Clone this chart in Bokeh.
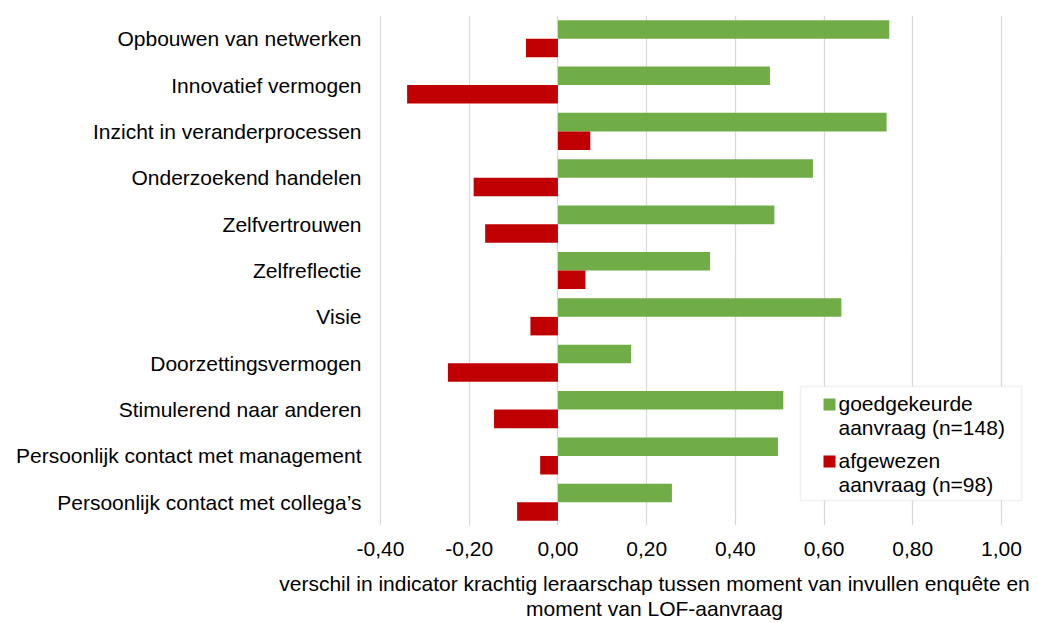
from bokeh.plotting import figure
from bokeh.models import (ColumnDataSource, FactorRange, FixedTicker, CustomJSTickFormatter,
                          Label, BoxAnnotation)
from bokeh.transform import dodge
from bokeh.embed import file_html
from bokeh.resources import INLINE

categories = [
    "Opbouwen van netwerken",
    "Innovatief vermogen",
    "Inzicht in veranderprocessen",
    "Onderzoekend handelen",
    "Zelfvertrouwen",
    "Zelfreflectie",
    "Visie",
    "Doorzettingsvermogen",
    "Stimulerend naar anderen",
    "Persoonlijk contact met management",
    "Persoonlijk contact met collega\u2019s",
]
goedgekeurd = [0.747, 0.478, 0.741, 0.575, 0.488, 0.343, 0.639, 0.165, 0.508, 0.496, 0.257]
afgewezen = [-0.072, -0.340, 0.073, -0.190, -0.164, 0.062, -0.062, -0.248, -0.144, -0.040, -0.092]
x_ticks = [-0.4, -0.2, 0.0, 0.2, 0.4, 0.6, 0.8, 1.0]
legend_lines_green = ["goedgekeurde", "aanvraag (n=148)"]
legend_lines_red = ["afgewezen", "aanvraag (n=98)"]
axis_title = ("verschil in indicator krachtig leraarschap tussen moment van invullen enqu\u00eate en\n"
              "moment van LOF-aanvraag")

GREEN = "#70AD47"
RED = "#C00000"
FONT = "Liberation Sans"
FS = "21px"

# layout (pixels): frame spans L..R horizontally, 15..525 vertically
W, H = 1036, 623
L, R, TOP, BOT = 282, 1026, 15, 525
PX_PER_UNIT = (1001 - 380) / 1.4
x_start = -0.4 - (380 - L) / PX_PER_UNIT
x_end = 1.0 + (R - 1001) / PX_PER_UNIT

src = ColumnDataSource(dict(cat=categories, g=goedgekeurd, r=afgewezen))

p = figure(
    y_range=FactorRange(factors=list(reversed(categories)), range_padding=0),
    x_range=(x_start, x_end),
    frame_width=R - L, frame_height=BOT - TOP,
    min_border_left=L, min_border_right=W - R, min_border_top=TOP, min_border_bottom=H - BOT,
    output_backend="svg", toolbar_location=None,
)
p.outline_line_color = None
p.background_fill_color = "white"
p.border_fill_color = "white"

p.hbar(y=dodge("cat", 0.2, range=p.y_range), right="g", left=0, height=0.4,
       color=GREEN, line_color=None, source=src)
p.hbar(y=dodge("cat", -0.2, range=p.y_range), right="r", left=0, height=0.4,
       color=RED, line_color=None, source=src)

p.xaxis.ticker = FixedTicker(ticks=x_ticks)
p.xaxis.formatter = CustomJSTickFormatter(code="return tick.toFixed(2).replace('.', ',');")
for ax in (p.xaxis[0], p.yaxis[0]):
    ax.axis_line_color = None
    ax.major_tick_line_color = None
    ax.minor_tick_line_color = None
    ax.major_tick_out = 0
    ax.major_tick_in = 0
    ax.major_label_text_font = FONT
    ax.major_label_text_font_size = FS
    ax.major_label_text_color = "#000000"
p.xaxis.major_label_standoff = 16
p.yaxis.major_label_standoff = -(361 - L)

p.xaxis.axis_label = axis_title
p.xaxis.axis_label_text_font = FONT
p.xaxis.axis_label_text_font_size = FS
p.xaxis.axis_label_text_font_style = "normal"
p.xaxis.axis_label_text_color = "#000000"
p.xaxis.axis_label_text_line_height = 1.1
p.xaxis.axis_label_standoff = 13

p.xgrid.ticker = FixedTicker(ticks=x_ticks)
p.xgrid.grid_line_color = "#d9d9d9"
p.xgrid.grid_line_width = 1.3
p.ygrid.grid_line_color = None


def sx(x):
    return x - L


def sy(y):
    return BOT - y


# legend
p.add_layout(BoxAnnotation(left=sx(800), right=sx(1021), bottom=sy(500), top=sy(386),
                           left_units="screen", right_units="screen",
                           bottom_units="screen", top_units="screen",
                           fill_color="white", fill_alpha=1.0,
                           line_color="#d0d0d0", line_width=1.5, level="overlay"))
for col, ytop in [(GREEN, 398), (RED, 455)]:
    p.add_layout(BoxAnnotation(left=sx(823), right=sx(835), bottom=sy(ytop + 12), top=sy(ytop),
                               left_units="screen", right_units="screen",
                               bottom_units="screen", top_units="screen",
                               fill_color=col, fill_alpha=1.0, line_color=None, level="overlay"))
for lines, base in [(legend_lines_green, 403), (legend_lines_red, 460)]:
    for i, t in enumerate(lines):
        p.add_layout(Label(x=sx(838), y=sy(base + 24 * i), x_units="screen", y_units="screen",
                           text=t, text_align="left", text_baseline="alphabetic",
                           text_font=FONT, text_font_size=FS, text_color="#000000",
                           level="overlay"))

open("out.html", "w").write(file_html(p, INLINE))
